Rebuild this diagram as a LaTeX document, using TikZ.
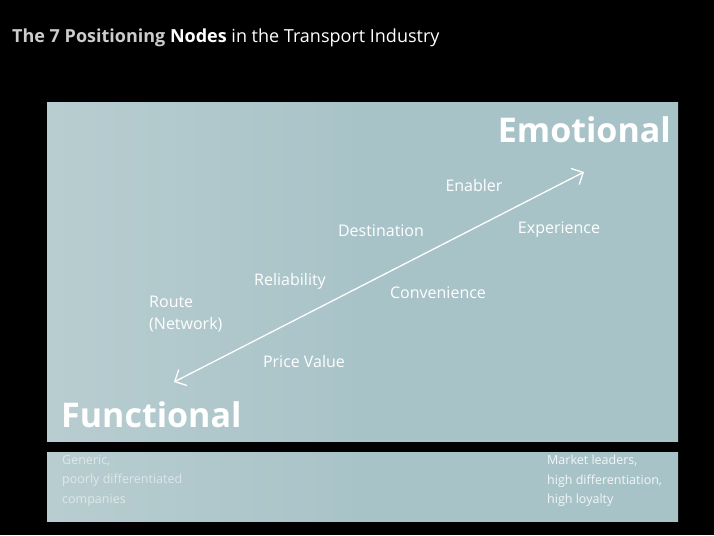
\documentclass[tikz,border=0pt]{standalone}
\usepackage{fontspec}
\setmainfont{Open Sans}
\usetikzlibrary{arrows.meta}
\definecolor{panel}{RGB}{168,195,200}
\definecolor{panelL}{RGB}{184,205,208}
\begin{document}
\begin{tikzpicture}[x=1pt,y=-1pt,
  lbl/.style={text=white,font=\fontsize{16}{18}\selectfont,inner sep=0pt},
  big/.style={text=white,font=\fontsize{34}{36}\selectfont\bfseries,inner sep=0pt},
  foot/.style={text=white,font=\fontsize{12.5}{19.5}\selectfont,inner sep=0pt,align=left},
  box/.style={left color=panelL,right color=panel,middle color=panel}]
  % black page
  \fill[black] (0,0) rectangle (714,535);
  \useasboundingbox (0,0) rectangle (714,535);
  % heading
  \node[anchor=base west,inner sep=0pt,text=white,font=\fontsize{18}{20}\selectfont] (title) at (12,42)
    {\textcolor{white!80!black}{\bfseries The 7 Positioning} \textbf{Nodes} in the Transport Industry};
  % main panel and footer panel
  \shade[box] (47,102) rectangle (678,441);
  \shade[box] (47,452) rectangle (678,521);
  % axis ends
  \coordinate (lo) at (174,382);
  \coordinate (hi) at (584,172);
  \draw[white,line width=1.3pt,{Straight Barb[length=9pt,width=18pt]}-{Straight Barb[length=9pt,width=18pt]}] (lo) -- (hi);
  % poles
  \node[big,anchor=east] (emo) at (671,130) {Emotional};
  \node[big,anchor=west] (fun) at (61,415) {Functional};
  % positioning nodes
  \node[lbl] (enabler) at (474,185) {Enabler};
  \node[lbl] (dest) at (381,231) {Destination};
  \node[lbl] (exp) at (559,230) {Experience};
  \node[lbl] (rel) at (290,281) {Reliability};
  \node[lbl] (conv) at (438,293) {Convenience};
  \node[lbl,anchor=west,align=left,font=\fontsize{16}{22}\selectfont] (route) at (149,314) {Route\\(Network)};
  \node[lbl] (price) at (304,361) {Price Value};
  % footer notes
  \node[foot,anchor=north west,opacity=0.55] (gen) at (62,455) {Generic,\\poorly differentiated\\companies};
  \node[foot,anchor=north west,opacity=0.85] (lead) at (547,455) {Market leaders,\\high differentiation,\\high loyalty};
\end{tikzpicture}
\end{document}
